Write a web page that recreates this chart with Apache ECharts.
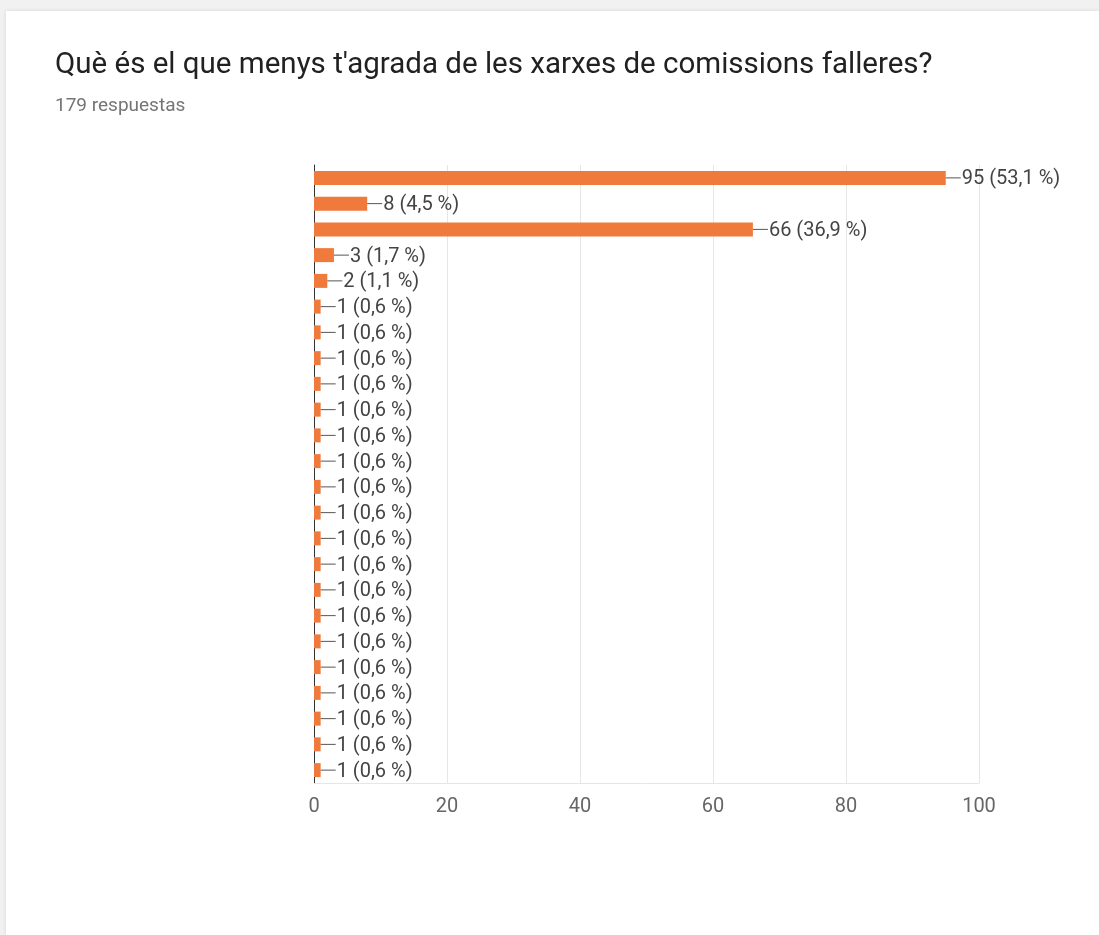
<!DOCTYPE html>
<html>
<head>
<meta charset="utf-8">
<script src="https://cdn.jsdelivr.net/npm/echarts@6/dist/echarts.min.js"></script>
<style>
  html, body { margin: 0; padding: 0; width: 1099px; height: 935px; overflow: hidden; background: #f1f1f1; }
  #card { position: absolute; left: 6px; top: 11px; right: 0; bottom: 0; background: #ffffff;
          box-shadow: 0 0 4px rgba(0,0,0,0.10); }
  #chart { position: absolute; left: 0; top: 0; width: 1099px; height: 935px; }
</style>
</head>
<body>
<div id="card"></div>
<div id="chart"></div>
<script>
// Survey question and response count
const questionTitle = "Què és el que menys t'agrada de les xarxes de comissions falleres?";
const totalResponses = 179;

// Answer options (labels are not displayed on the axis) and how many picked each
const options = [
  'Opció 1', 'Opció 2', 'Opció 3', 'Opció 4', 'Opció 5', 'Opció 6',
  'Opció 7', 'Opció 8', 'Opció 9', 'Opció 10', 'Opció 11', 'Opció 12',
  'Opció 13', 'Opció 14', 'Opció 15', 'Opció 16', 'Opció 17', 'Opció 18',
  'Opció 19', 'Opció 20', 'Opció 21', 'Opció 22', 'Opció 23', 'Opció 24'
];
const counts = [95, 8, 66, 3, 2, 1, 1, 1, 1, 1, 1, 1, 1, 1, 1, 1, 1, 1, 1, 1, 1, 1, 1, 1];

// Horizontal axis ticks
const axisMin = 0;
const axisMax = 100;
const axisStep = 20;

const chart = echarts.init(document.getElementById('chart'));

function pctText(v) {
  return (v / totalResponses * 100).toFixed(1).replace('.', ',') + ' %';
}

chart.setOption({
  backgroundColor: 'transparent',
  animation: false,
  title: {
    text: questionTitle,
    subtext: totalResponses + ' respuestas',
    left: 50,
    top: 46,
    itemGap: 16,
    textStyle: { fontFamily: 'Roboto', fontSize: 29.5, fontWeight: 'normal', color: '#212121' },
    subtextStyle: { fontFamily: 'Roboto', fontSize: 19, color: '#757575' }
  },
  grid: { left: 314, right: 120, top: 165, bottom: 152, containLabel: false },
  xAxis: {
    type: 'value',
    min: axisMin,
    max: axisMax,
    interval: axisStep,
    axisLine: { show: true, lineStyle: { color: '#e6e6e6', width: 1 } },
    axisTick: { show: false },
    splitLine: { show: true, lineStyle: { color: '#e6e6e6', width: 1 } },
    axisLabel: { fontFamily: 'Roboto', fontSize: 20, color: '#666666', margin: 14 }
  },
  yAxis: {
    type: 'category',
    data: options,
    inverse: true,
    axisLine: { show: true, onZero: false, lineStyle: { color: '#333333', width: 1 } },
    axisTick: { show: false },
    axisLabel: { show: false },
    splitLine: { show: false }
  },
  series: [{
    type: 'bar',
    data: counts,
    barWidth: 14,
    itemStyle: { color: '#ef7a3c' },
    label: {
      show: true,
      position: 'right',
      distance: 0,
      formatter: function (p) {
        return '{lead|}{txt|' + p.value + ' (' + pctText(p.value) + ')}';
      },
      rich: {
        lead: { width: 15, height: 1, backgroundColor: '#555555' },
        txt: { fontFamily: 'Roboto', fontSize: 20, color: '#444444', padding: [3, 0, 0, 1] }
      }
    }
  }]
});
</script>
</body>
</html>
